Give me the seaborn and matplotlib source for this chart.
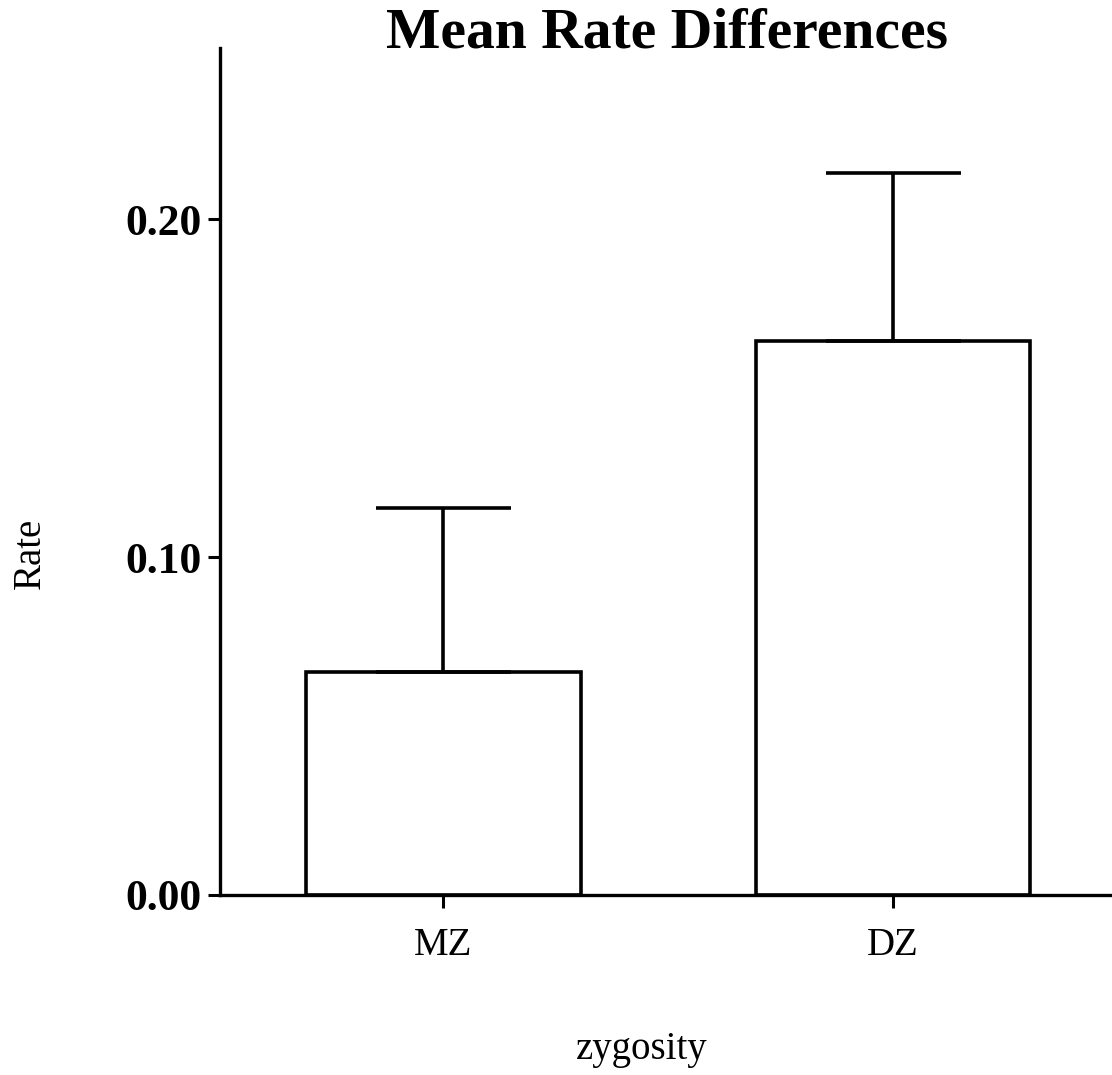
import matplotlib
matplotlib.use("Agg")
import matplotlib.pyplot as plt
import seaborn as sns
import pandas as pd
import numpy as np

categories = ["MZ", "DZ"]
means = [0.066, 0.164]
upper_err = [0.0485, 0.0495]
y_ticks = [0.0, 0.10, 0.20]
y_tick_labels = ["0.00", "0.10", "0.20"]

sns.set_theme(style="ticks")
plt.rcParams['font.family'] = ['Liberation Serif', 'DejaVu Serif']
plt.rcParams['text.color'] = 'black'
plt.rcParams['axes.labelcolor'] = 'black'
plt.rcParams['xtick.color'] = 'black'
plt.rcParams['ytick.color'] = 'black'

df = pd.DataFrame({"zygosity": categories, "Rate": means})

fig = plt.figure(figsize=(11.12, 10.75), dpi=100)
ax = fig.add_axes([220/1112, 1-895/1075, 1-220/1112, (895-48)/1075])

sns.barplot(data=df, x="zygosity", y="Rate", order=categories, ax=ax,
            color="white", edgecolor="black", linewidth=2.6, width=0.611,
            errorbar=None, saturation=1)

xs = np.arange(len(categories))
ax.errorbar(xs, means, yerr=[np.zeros(len(means)), upper_err], fmt="none",
            ecolor="black", elinewidth=2.6, capsize=48.6, capthick=2.6, zorder=1)

ax.set_xlim(-0.496, 1.487)
ax.set_ylim(0, 0.2506)
ax.set_yticks(y_ticks)
ax.set_yticklabels(y_tick_labels, fontsize=31.5, fontweight="bold", color="black")
ax.set_xticks(xs)
ax.set_xticklabels(categories, fontsize=28, color="black")
ax.tick_params(axis="y", length=9, width=2.2, pad=4, colors="black")
ax.tick_params(axis="x", length=9, width=2.2, pad=14, colors="black")

for s in ["top", "right"]:
    ax.spines[s].set_visible(False)
for s in ["left", "bottom"]:
    ax.spines[s].set_linewidth(2.4)
    ax.spines[s].set_color("black")

ax.set_xlabel("")
ax.set_ylabel("")
fig.text(30/1112, 1-553/1075, "Rate", rotation=90, ha="center", va="center",
         fontsize=28, color="black")
fig.text(642/1112, 1-1050/1075, "zygosity", ha="center", va="center",
         fontsize=28, color="black")
fig.text(667/1112, 1-34/1075, "Mean Rate Differences", ha="center", va="center",
         fontsize=41.5, fontweight="bold", color="black")

fig.savefig("out.png", dpi=100, facecolor="white")
